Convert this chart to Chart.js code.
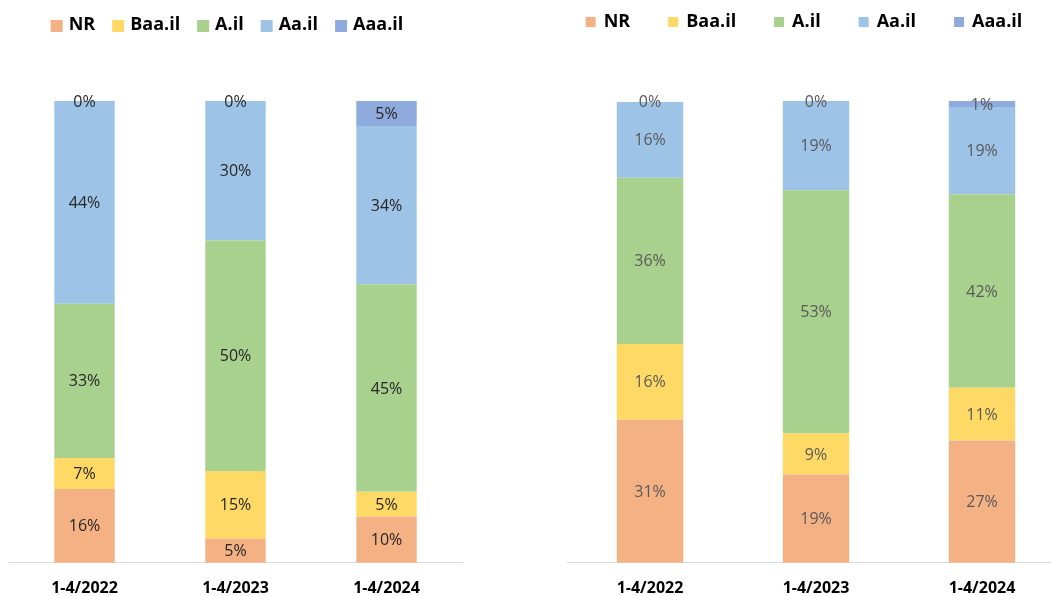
<!DOCTYPE html>
<html>
<head>
<meta charset="utf-8">
<script src="https://cdn.jsdelivr.net/npm/chart.js@4.4.1/dist/chart.umd.min.js"></script>
<style>
  html, body { margin: 0; padding: 0; background: #fff; overflow: hidden; }
  body { width: 1051px; height: 596px; position: relative; }
  .box { position: absolute; top: 0; height: 596px; }
  #leftBox { left: 0; width: 470px; }
  #rightBox { left: 560px; width: 513px; }
</style>
</head>
<body>
<div class="box" id="leftBox"><canvas id="leftChart"></canvas></div>
<div class="box" id="rightBox"><canvas id="rightChart"></canvas></div>
<script>
// categories and series (percent shares)
const periods = ["1-4/2022", "1-4/2023", "1-4/2024"];
const ratingNames = ["NR", "Baa.il", "A.il", "Aa.il", "Aaa.il"];
const ratingColors = ["#F4B183", "#FFD966", "#A9D18E", "#9DC3E6", "#8FAADC"];

// left chart
const leftNR = [16, 5.2, 10];
const leftBaa = [6.7, 14.7, 5.4];
const leftA = [33.4, 49.9, 44.9];
const leftAa = [43.9, 30.2, 34.3];
const leftAaa = [0, 0, 5.4];

// right chart
const rightNR = [31, 19.1, 26.5];
const rightBaa = [16.4, 8.9, 11.4];
const rightA = [36, 52.7, 41.9];
const rightAa = [16.4, 19.3, 18.9];
const rightAaa = [0, 0, 1.3];

const fontFamily = "'Open Sans', 'DejaVu Sans', sans-serif";

// draws the % value in the middle of each segment
const segmentLabels = {
  id: "segmentLabels",
  afterDatasetsDraw(chart, args, opts) {
    const ctx = chart.ctx;
    ctx.save();
    ctx.font = "16px " + fontFamily;
    ctx.fillStyle = opts.color;
    ctx.textAlign = "center";
    ctx.textBaseline = "middle";
    chart.data.datasets.forEach((ds, i) => {
      const meta = chart.getDatasetMeta(i);
      meta.data.forEach((bar, j) => {
        const v = ds.data[j];
        ctx.fillText(Math.round(v) + "%", bar.x, (bar.y + bar.base) / 2 + 1);
      });
    });
    ctx.restore();
  }
};

// one-row legend, spaced like the original
const legendRow = {
  id: "legendRow",
  afterDraw(chart, args, o) {
    const ctx = chart.ctx;
    ctx.save();
    ctx.font = "bold 18px " + fontFamily;
    ctx.textBaseline = "middle";
    const items = chart.data.datasets.map((ds) => ({
      text: ds.label,
      color: ds.backgroundColor,
      w: ctx.measureText(ds.label).width
    }));
    const total = items.reduce((s, it) => s + o.box + o.textGap + it.w, 0) + o.itemGap * (items.length - 1);
    let x = o.center - total / 2;
    items.forEach((it) => {
      ctx.fillStyle = it.color;
      ctx.fillRect(x, o.boxY - o.box / 2, o.box, o.box);
      ctx.fillStyle = "#000";
      ctx.fillText(it.text, x + o.box + o.textGap, o.textY);
      x += o.box + o.textGap + it.w + o.itemGap;
    });
    ctx.restore();
  }
};

function makeChart(canvasId, series, opts) {
  const datasets = series.map((data, i) => ({
    label: ratingNames[i],
    data: data,
    backgroundColor: ratingColors[i],
    borderWidth: 0,
    barPercentage: 0.4,
    categoryPercentage: 1
  }));

  return new Chart(document.getElementById(canvasId), {
    type: "bar",
    data: { labels: periods, datasets: datasets },
    plugins: [segmentLabels, legendRow],
    options: {
      responsive: true,
      maintainAspectRatio: false,
      animation: false,
      layout: {
        padding: { left: opts.padLeft, right: 8, top: 101, bottom: -18 }
      },
      scales: {
        x: {
          stacked: true,
          grid: { display: false, drawTicks: false },
          border: { display: true, color: "#d9d9d9", width: 1 },
          ticks: {
            color: "#000",
            padding: 16,
            font: { family: fontFamily, size: 16, weight: "bold" }
          }
        },
        y: {
          stacked: true,
          display: false,
          min: 0,
          max: 100
        }
      },
      plugins: {
        legend: { display: false },
        tooltip: { enabled: false },
        segmentLabels: { color: opts.labelColor },
        legendRow: opts.legend
      }
    }
  });
}

makeChart("leftChart", [leftNR, leftBaa, leftA, leftAa, leftAaa], {
  padLeft: 9,
  labelColor: "#262626",
  legend: { center: 227, boxY: 26, textY: 25, box: 12, textGap: 6, itemGap: 17 }
});
makeChart("rightChart", [rightNR, rightBaa, rightA, rightAa, rightAaa], {
  padLeft: 7,
  labelColor: "#595959",
  legend: { center: 244, boxY: 22, textY: 22, box: 10, textGap: 8, itemGap: 38 }
});
</script>
</body>
</html>
